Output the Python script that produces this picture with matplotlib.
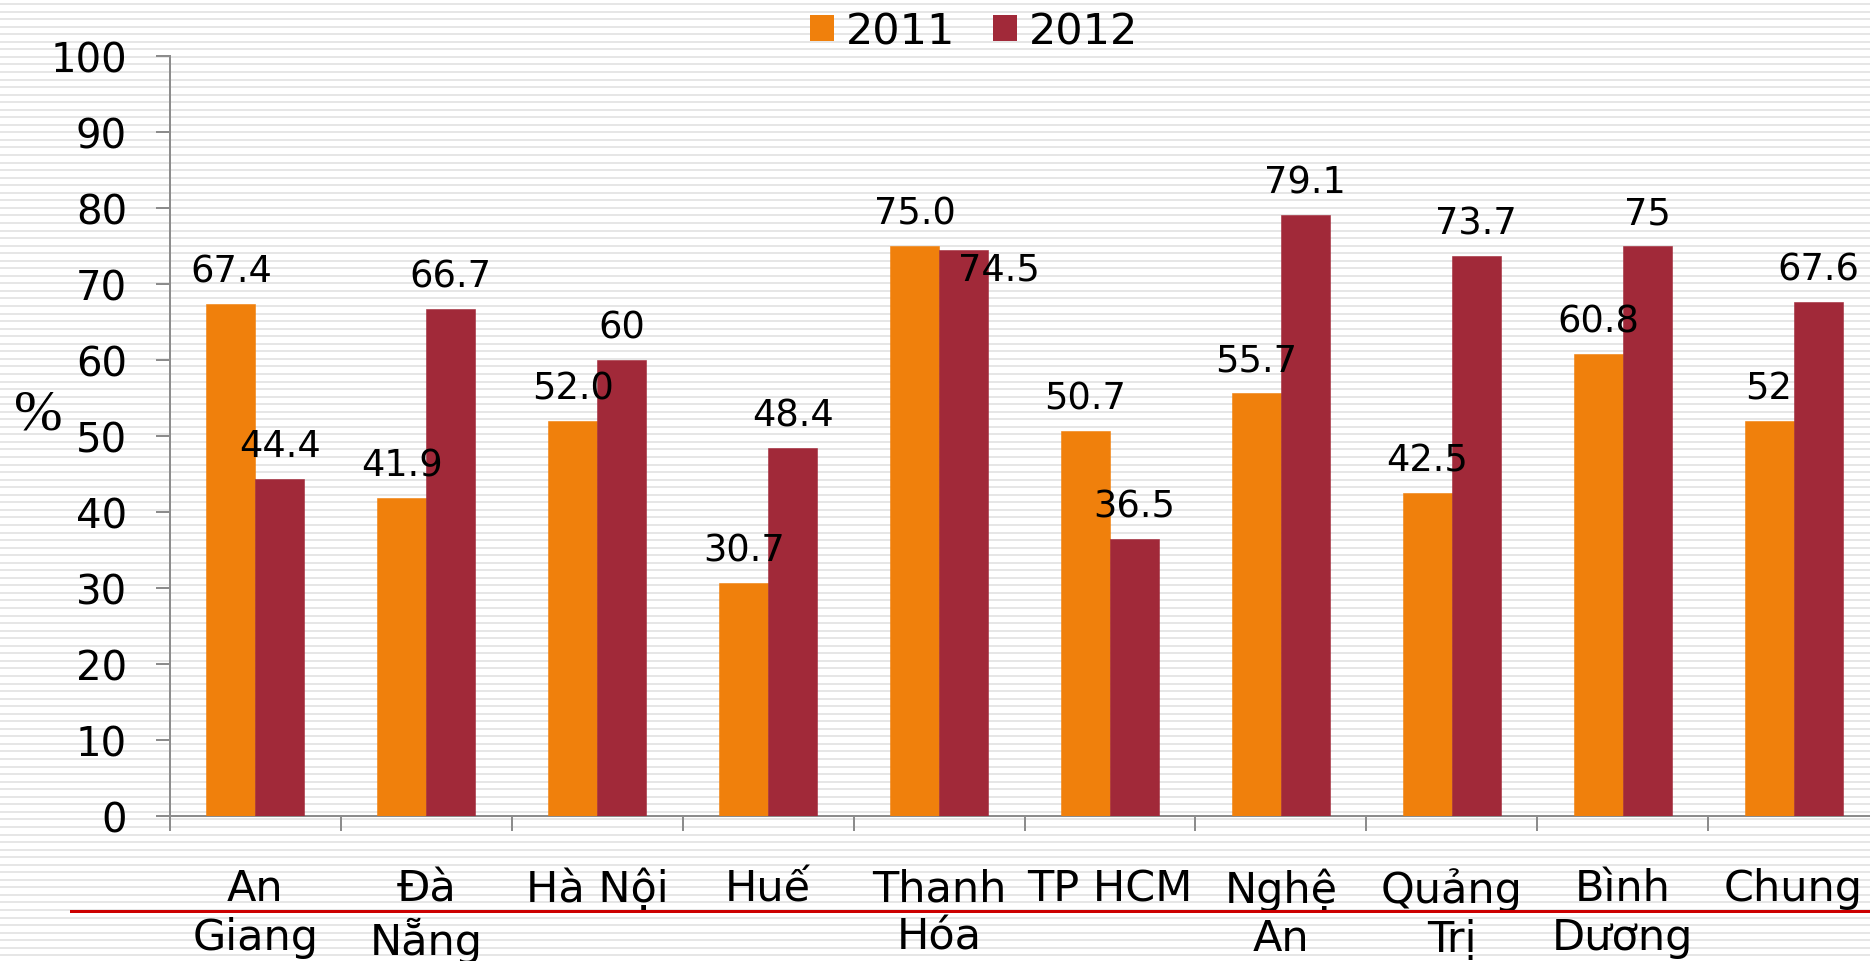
import numpy as np
import matplotlib
matplotlib.use("Agg")
import matplotlib.pyplot as plt
from matplotlib.lines import Line2D
from matplotlib.patches import Patch

# ---------------- data ----------------
categories = ["An\nGiang", "Đà\nNẵng", "Hà Nội", "Huế", "Thanh\nHóa",
              "TP HCM", "Nghệ\nAn", "Quảng\nTrị", "Bình\nDương", "Chung"]
values_2011 = [67.4, 41.9, 52.0, 30.7, 75.0, 50.7, 55.7, 42.5, 60.8, 52.0]
values_2012 = [44.4, 66.7, 60.0, 48.4, 74.5, 36.5, 79.1, 73.7, 75.0, 67.6]
labels_2011 = ["67.4", "41.9", "52.0", "30.7", "75.0", "50.7", "55.7", "42.5", "60.8", "52"]
labels_2012 = ["44.4", "66.7", "60", "48.4", "74.5", "36.5", "79.1", "73.7", "75", "67.6"]
series_names = ["2011", "2012"]
y_ticks = [0, 10, 20, 30, 40, 50, 60, 70, 80, 90, 100]
y_label = "%"

# ---------------- style ----------------
W, H, DPI = 1870, 962, 100
C2011 = "#F0800C"
C2012 = "#A12939"
AXIS_C = "#8C8C8C"
PX = 72.0 / DPI  # points per pixel

fig = plt.figure(figsize=(W / DPI, H / DPI), dpi=DPI)
fig.patch.set_facecolor("white")

# striped background
bg = fig.add_axes([0, 0, 1, 1], zorder=-10)
bg.set_xlim(0, W)
bg.set_ylim(H, 0)
bg.axis("off")
stripe_y = np.arange(5, H, 7.55)
bg.hlines(stripe_y, 0, W, colors="#E6E6E6", linewidth=2 * PX)

# main axes (extends slightly past the right edge like the original)
left, bottom = 170, 145
ax = fig.add_axes([left / W, bottom / H, 1709 / W, 760 / H])
ax.patch.set_alpha(0)

x = np.arange(len(categories))
bw = 49 / 170.9
ax.bar(x - bw / 2, values_2011, width=bw, color=C2011, edgecolor=C2011, linewidth=0.4, zorder=3)
ax.bar(x + bw / 2, values_2012, width=bw, color=C2012, edgecolor=C2012, linewidth=0.4, zorder=3)

ax.set_xlim(-0.5, len(categories) - 0.5)
ax.set_ylim(0, 100)

for s in ["top", "right"]:
    ax.spines[s].set_visible(False)
for s in ["left", "bottom"]:
    ax.spines[s].set_color(AXIS_C)
    ax.spines[s].set_linewidth(2 * PX)

ax.set_yticks(y_ticks)
ax.set_yticklabels([str(v) for v in y_ticks], fontsize=29)
ax.tick_params(axis="y", length=14 * PX, width=2 * PX, color=AXIS_C, pad=29 * PX)

ax.set_xticks(x)
ax.set_xticklabels(categories, fontsize=31, linespacing=1.2)
ax.tick_params(axis="x", which="major", length=0, pad=37)
ax.set_xticks(np.arange(-0.5, len(categories) + 0.5, 1), minor=True)
ax.tick_params(axis="x", which="minor", length=15 * PX, width=2 * PX, color=AXIS_C)

# data labels
label_dy = 33 * PX
offsets_2012 = {4: (35 * PX, -19 * PX)}
for i, (v, t) in enumerate(zip(values_2011, labels_2011)):
    ax.annotate(t, (x[i] - bw / 2, v), xytext=(0, label_dy), textcoords="offset points",
                ha="center", va="center", fontsize=26.5, zorder=5, annotation_clip=False)
for i, (v, t) in enumerate(zip(values_2012, labels_2012)):
    dx, dy = offsets_2012.get(i, (0, label_dy))
    ax.annotate(t, (x[i] + bw / 2, v), xytext=(dx, dy), textcoords="offset points",
                ha="center", va="center", fontsize=26.5, zorder=5, annotation_clip=False)

# y-axis unit label
fig.text(38 / W, 1 - 415 / H, y_label, fontsize=42, family="Liberation Serif",
         ha="center", va="center")

# legend
handles = [Patch(facecolor=C2011, edgecolor="none"), Patch(facecolor=C2012, edgecolor="none")]
fig.legend(handles, series_names, loc="center", bbox_to_anchor=(974 / W, 1 - 32.5 / H),
           ncol=2, frameon=False, fontsize=31, handlelength=0.56, handleheight=0.56,
           handletextpad=0.28, columnspacing=0.86, borderpad=0.2)

# red separator line
fig.add_artist(Line2D([71 / W, 1.0], [1 - 912 / H, 1 - 912 / H], transform=fig.transFigure,
                      color="#CC0000", linewidth=3 * PX, zorder=1))

fig.savefig("out.png", dpi=DPI)
